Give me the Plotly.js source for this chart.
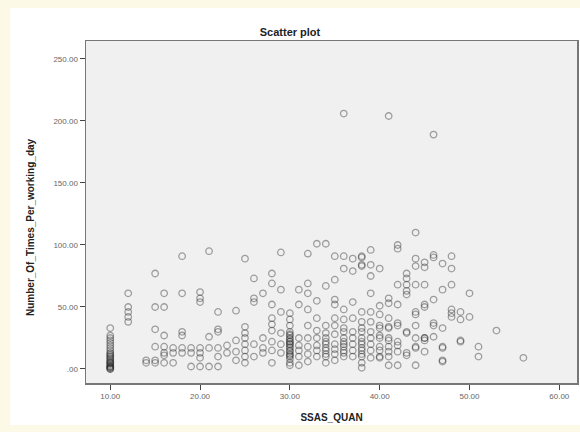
<!DOCTYPE html>
<html>
<head>
<meta charset="utf-8">
<script src="https://cdn.plot.ly/plotly-3.0.1.min.js"></script>
<style>html,body{margin:0;padding:0;background:#fff;}#chart{width:580px;height:432px;}</style>
</head>
<body>
<div id="chart"></div>
<script>
// SSAS_QUAN values (one per column of points)
const ssasQuan = [10, 12, 14, 15, 16, 17, 18, 19, 20, 21, 22, 23, 24, 25, 26, 27, 28, 29, 30,
  31, 32, 33, 34, 35, 36, 37, 38, 39, 40, 41, 42, 43, 44, 45, 46, 47, 48, 49, 50, 51, 53, 56];
// Number_Of_Times_Per_working_day values observed at each SSAS_QUAN value
const timesPerDay = [
  [33,27,25,23,21,19,17,15,13,11,10,8,6,5,3,2,1,0,12,9,7,4,2,1,0,5],
  [61,50,46,42,38],
  [5,7],
  [77,50,32,18,5,7],
  [61,50,27,18,13,11,5],
  [17,5,13],
  [91,61,30,27,17,13],
  [17,2,13],
  [62,57,54,17,9,2,13],
  [95,26,17,2],
  [46,32,30,10,2,17],
  [19,13],
  [47,23,14,7],
  [89,34,29,25,20,15,10,5],
  [73,57,54,10,20],
  [61,25,17,13],
  [77,69,52,41,36,31,5,22,15],
  [94,64,46,29,13,20],
  [45,40,35,30,28,25,22,20,18,15,12,10,8,5,3,27,24,20,17,14,22,11],
  [64,52,19,10,3,15,25],
  [93,69,61,48,35,18,6,12,25],
  [101,55,41,31,19,10,15,25],
  [101,67,35,29,25,20,15,10,5,22,17,12],
  [91,72,56,52,41,35,28,20,16,12,7],
  [206,91,81,48,40,33,30,25,22,18,15,10,20,13],
  [89,79,54,41,30,25,20,15,10],
  [91,83,90,84,46,38,33,30,25,20,15,10,5,1,22,17,12],
  [96,84,75,61,46,38,30,25,20,15,9],
  [81,51,44,35,33,27,25,18,15,10,9],
  [204,57,53,41,34,33,25,23,18,14,10,3],
  [100,97,68,52,37,35,22,19,14,3],
  [77,73,68,63,60,30,29,13,11],
  [110,89,83,68,46,44,35,25,18,17,3],
  [86,82,68,52,50,25,23,14,25],
  [189,92,90,56,37,35,26],
  [85,64,33,17,18,7,6],
  [91,81,68,48,45,42],
  [46,40,23,22],
  [61,42],
  [18,10],
  [31],
  [9]
];
const xTickVals = [10, 20, 30, 40, 50, 60];
const xTickText = ["10.00", "20.00", "30.00", "40.00", "50.00", "60.00"];
const yTickVals = [0, 50, 100, 150, 200, 250];
const yTickText = [".00", "50.00", "100.00", "150.00", "200.00", "250.00"];

const xs = [], ys = [];
ssasQuan.forEach((xv, i) => {
  timesPerDay[i].forEach(yv => { xs.push(xv); ys.push(yv); });
});

const trace = {
  x: xs, y: ys, type: 'scatter', mode: 'markers',
  marker: { symbol: 'circle-open', size: 6.5, color: 'rgba(40,40,40,0.42)', line: { width: 1.3 } },
  hoverinfo: 'x+y'
};

const border = '#fcf9e6';
const layout = {
  width: 580, height: 432,
  margin: { l: 86, r: 3, t: 41, b: 49 },
  paper_bgcolor: '#ffffff',
  plot_bgcolor: '#f0f0f0',
  font: { family: '"Liberation Sans", Arial, sans-serif', color: '#333' },
  showlegend: false,
  title: { text: '<b>Scatter plot</b>', x: 0.5, xref: 'container', y: 0.926, yanchor: 'middle', font: { size: 11, color: '#222' } },
  xaxis: {
    range: [7.3, 61.97], tickvals: xTickVals, ticktext: xTickText,
    ticks: 'outside', ticklen: 5, tickcolor: '#444', showgrid: false, zeroline: false,
    showline: true, linecolor: '#777', linewidth: 1.5, mirror: true,
    tickfont: { size: 8, color: '#666' },
    title: { text: '<b>SSAS_QUAN</b>', font: { size: 10, color: '#222' }, standoff: 14 }
  },
  yaxis: {
    range: [-11.3, 264.5], tickvals: yTickVals, ticktext: yTickText,
    ticks: 'outside', ticklen: 5, tickcolor: '#444', showgrid: false, zeroline: false,
    showline: true, linecolor: '#777', linewidth: 1.5, mirror: true,
    tickfont: { size: 8, color: '#666' }
  },
  annotations: [{
    text: '<b>Number_Of_Times_Per_working_day</b>', textangle: -90,
    xref: 'paper', yref: 'paper', x: (30 - 86) / 491, y: (383 - 227) / 342,
    xanchor: 'center', yanchor: 'middle', showarrow: false,
    font: { size: 10, color: '#222' }
  }],
  shapes: [
    { type: 'rect', xref: 'paper', yref: 'paper', x0: -0.1752, x1: -0.1548, y0: -0.1433, y1: 1.1199, fillcolor: border, line: { width: 0 } },
    { type: 'rect', xref: 'paper', yref: 'paper', x0: -0.1752, x1: 1.0061, y0: 1.0965, y1: 1.1199, fillcolor: border, line: { width: 0 } },
    { type: 'rect', xref: 'paper', yref: 'paper', x0: -0.1752, x1: 1.0061, y0: -0.1433, y1: -0.1228, fillcolor: border, line: { width: 0 } }
  ]
};

Plotly.newPlot('chart', [trace], layout, { displayModeBar: false, staticPlot: true });
</script>
</body>
</html>
